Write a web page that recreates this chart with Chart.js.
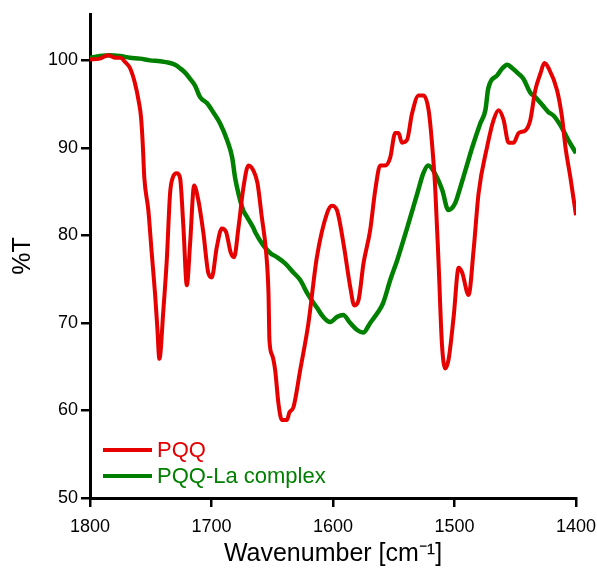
<!DOCTYPE html>
<html>
<head>
<meta charset="utf-8">
<script src="https://cdn.jsdelivr.net/npm/chart.js@4/dist/chart.umd.min.js"></script>
<style>
  html, body { margin: 0; padding: 0; background: #fff; }
  canvas { display: block; }
</style>
</head>
<body>
<canvas id="c" width="597" height="569"></canvas>
<script>
// ---- Data ----
const pqqWavenumber = [1800, 1792, 1785, 1779, 1775, 1771, 1767, 1763, 1760, 1758, 1756.6, 1755.3, 1752, 1749.2, 1746.5, 1744.6, 1742.9,
  1739.6, 1736.8, 1734.1, 1731.9, 1728.6, 1725.9, 1723.1, 1720.3, 1717.6, 1714.3, 1710.8, 1706.7, 1702.6, 1699.8, 1695.6, 1691.5,
  1688, 1684.1, 1681.4, 1677.8, 1673.7, 1669.6, 1665.5, 1662.2, 1658.6, 1655, 1653.1, 1652.3, 1650, 1647.6, 1644.9, 1642.1, 1638,
  1635.8, 1632.5, 1627, 1620.2, 1613.3, 1605, 1600.9, 1596.8, 1591.4, 1585.8, 1582.5, 1579, 1574.9, 1569.4, 1565.2, 1561.1, 1557,
  1552.9, 1548.8, 1546.1, 1543.3, 1539.1, 1535, 1529.6, 1525.5, 1521.3, 1518.5, 1515.8, 1513.1, 1510.3, 1507.6, 1504.9, 1500.7,
  1496.6, 1493.8, 1488.4, 1484.3, 1480.2, 1473.2, 1467.8, 1463.7, 1459.6, 1455.5, 1451.3, 1447.2, 1441.7, 1437.6, 1433.5, 1429.3,
  1426, 1422.5, 1415.6, 1411.5, 1408.7, 1404.6, 1400];
const pqqT = [100.1, 100.2, 100.6, 100.3, 100.3, 99.8, 99.1, 97.4, 95.4, 93.5, 90.5, 86.6, 82.9, 78.0, 73.4, 69.5, 65.9,
  71.5, 77.2, 84.8, 86.6, 87.1, 86.6, 80.9, 74.3, 79.1, 85.7, 84.0, 80.3, 75.7, 75.2, 78.7, 80.8,
  80.4, 78.0, 77.5, 80.9, 85.5, 88.0, 87.4, 86.0, 82.1, 78.0, 73.4, 68.0, 66.3, 64.6, 60.8, 58.9, 58.9,
  59.8, 60.4, 64.6, 70.0, 77.5, 82.5, 83.4, 82.9, 79.1, 74.1, 72.0, 72.6, 76.8, 80.6, 85.2, 88.0, 88.0,
  88.9, 91.7, 91.7, 90.6, 90.9, 93.9, 96.0, 96.0, 94.3, 90.5, 85.2, 76.8, 67.5, 64.8, 65.8, 70.7,
  76.3, 75.8, 73.2, 78.3, 84.8, 90.1, 93.2, 94.3, 93.2, 90.6, 90.6, 91.7, 92.0, 93.2, 96.6, 98.5,
  99.7, 99.1, 96.6, 93.5, 90.1, 86.6, 82.3];

const complexWavenumber = [1800, 1791.8, 1783.5, 1775.3, 1767.1, 1758.8, 1750.6, 1742.3, 1734.1, 1730, 1725.9, 1721.7, 1717.6,
  1713.5, 1709.4, 1703.6, 1698.7, 1692.9, 1687.2, 1683.0, 1680.6, 1676.4, 1674.0, 1670.7, 1665.7, 1664.1, 1657.5, 1651.7,
  1646.0, 1639.4, 1632.8, 1627.0, 1620.4, 1613.0, 1608.1, 1602.3, 1596.5, 1591.6, 1585.8, 1580.1, 1575.1, 1569.4, 1563.6,
  1558.7, 1552.9, 1547.1, 1538.9, 1530.6, 1525.7, 1521.6, 1517.5, 1510.1, 1505.1, 1499.4, 1495.2, 1491.1, 1485.3, 1478.8,
  1474.6, 1472.2, 1464.8, 1460.6, 1456.5, 1452.4, 1447.5, 1443.3, 1437.6, 1433.5, 1427.7, 1422.7, 1418.6, 1412.9, 1407.1, 1400];
const complexT = [100.3, 100.5, 100.6, 100.5, 100.3, 100.2, 100.0, 99.9, 99.7, 99.5, 99.1, 98.6, 97.9,
  97.1, 95.8, 95.1, 94.1, 92.8, 90.9, 88.9, 86.6, 84.0, 82.9, 82.1, 80.9, 80.4, 78.9, 78.0,
  77.5, 76.8, 75.8, 74.9, 73.2, 71.7, 70.7, 70.1, 70.7, 70.9, 70.0, 69.2, 68.9, 70.0, 71.1,
  72.3, 74.9, 77.2, 80.9, 84.8, 87.1, 88.0, 87.4, 85.2, 82.9, 83.7, 85.5, 87.4, 90.1, 92.8,
  94.3, 96.8, 98.3, 99.1, 99.5, 99.1, 98.5, 97.9, 96.3, 95.8, 94.9, 94.1, 93.7, 92.6, 91.1, 89.4];

const seriesLabels = ['PQQ', 'PQQ-La complex'];
const xTicks = [1800, 1700, 1600, 1500, 1400];
const yTicks = [50, 60, 70, 80, 90, 100];

const RED = '#e60000';
const GREEN = '#008000';
const FONT = "'Liberation Sans', Arial, Helvetica, sans-serif";

const toPoints = (xs, ys) => xs.map((x, i) => ({ x: x, y: ys[i] }));

const insideLegend = {
  id: 'insideLegend',
  afterDatasetsDraw(chart) {
    const ctx = chart.ctx;
    const area = chart.chartArea;
    const x0 = area.left + 13;
    const rows = [area.bottom - 48, area.bottom - 22];
    ctx.save();
    ctx.font = '22px ' + FONT;
    ctx.textBaseline = 'middle';
    ctx.textAlign = 'left';
    chart.data.datasets.forEach((ds, i) => {
      const y = rows[i];
      ctx.strokeStyle = ds.borderColor;
      ctx.lineWidth = 4;
      ctx.lineCap = 'butt';
      ctx.beginPath();
      ctx.moveTo(x0, y);
      ctx.lineTo(x0 + 49, y);
      ctx.stroke();
      ctx.fillStyle = ds.borderColor;
      ctx.fillText(ds.label, x0 + 54, y + 1);
    });
    ctx.restore();
  }
};

new Chart(document.getElementById('c'), {
  type: 'line',
  data: {
    datasets: [
      { label: seriesLabels[0], data: toPoints(pqqWavenumber, pqqT), borderColor: RED, backgroundColor: RED,
        borderWidth: 4, pointRadius: 0, cubicInterpolationMode: 'monotone', borderJoinStyle: 'round', fill: false },
      { label: seriesLabels[1], data: toPoints(complexWavenumber, complexT), borderColor: GREEN, backgroundColor: GREEN,
        borderWidth: 4.5, pointRadius: 0, cubicInterpolationMode: 'monotone', borderJoinStyle: 'round', fill: false }
    ]
  },
  options: {
    responsive: false,
    animation: false,
    devicePixelRatio: 1,
    layout: { padding: { top: 14, right: 21, left: 0, bottom: 0 } },
    plugins: { legend: { display: false }, tooltip: { enabled: false } },
    scales: {
      x: {
        type: 'linear', reverse: true, min: 1400, max: 1800,
        afterBuildTicks: s => { s.ticks = xTicks.map(v => ({ value: v })); },
        afterFit: s => { s.height = 71; s.paddingRight = 0; s.paddingLeft = 0; },
        ticks: { color: '#000', font: { family: FONT, size: 18 }, padding: 9, maxRotation: 0, autoSkip: false,
                 callback: v => String(v) },
        grid: { drawOnChartArea: false, drawTicks: true, tickLength: 9, color: '#000', lineWidth: 2.5 },
        border: { display: true, color: '#000', width: 3 },
        title: { display: true, text: 'Wavenumber [cm⁻¹]', color: '#000', font: { family: FONT, size: 25 }, padding: { top: 0, bottom: 0 } }
      },
      y: {
        type: 'linear', min: 50, max: 105.3,
        afterBuildTicks: s => { s.ticks = yTicks.map(v => ({ value: v })); },
        afterFit: s => { s.width = 90; },
        ticks: { color: '#000', font: { family: FONT, size: 18 }, padding: 3, callback: v => String(v) },
        grid: { drawOnChartArea: false, drawTicks: true, tickLength: 9, color: '#000', lineWidth: 2.5 },
        border: { display: true, color: '#000', width: 3 },
        title: { display: true, text: '%T', color: '#000', font: { family: FONT, size: 25 }, padding: { top: 8, bottom: 0 } }
      }
    }
  },
  plugins: [insideLegend]
});
</script>
</body>
</html>
